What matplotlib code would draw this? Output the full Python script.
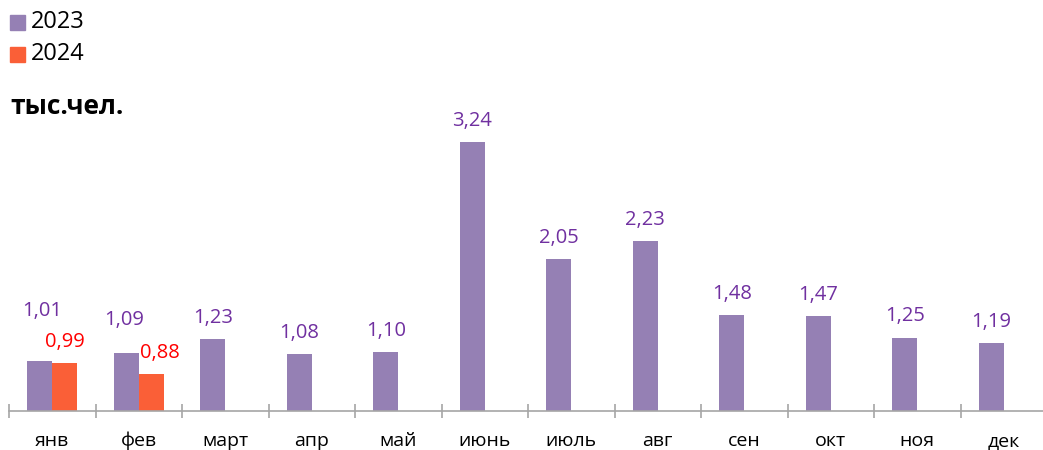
import numpy as np
import matplotlib
matplotlib.use('Agg')
import matplotlib.pyplot as plt
from matplotlib.patches import Rectangle

plt.rcParams['font.family'] = ['Open Sans', 'DejaVu Sans']

# данные
months = ['янв', 'фев', 'март', 'апр', 'май', 'июнь', 'июль', 'авг', 'сен', 'окт', 'ноя', 'дек']
vals_2023 = [1.01, 1.09, 1.23, 1.08, 1.10, 3.24, 2.05, 2.23, 1.48, 1.47, 1.25, 1.19]
vals_2024 = [0.99, 0.88]
series_names = ['2023', '2024']

c23 = '#9580B4'
c24 = '#FA5F37'
lab23 = '#7030A0'
lab24 = '#FF0000'

fig = plt.figure(figsize=(10.43, 4.5), dpi=100)
W, H = 1043, 450
left, right = 9, 1047
bottom, top = 411, 117
ax = fig.add_axes([left / W, (H - bottom) / H, (right - left) / W, (bottom - top) / H])

x = np.arange(len(months))
bw = 0.29
ax.bar(x - bw / 2, vals_2023, bw, color=c23)
x24 = np.arange(len(vals_2024))
ax.bar(x24 + bw / 2, vals_2024, bw, color=c24)

ax.set_xlim(-0.5, len(months) - 0.5)
ax.set_ylim(0.5, 3.5)

fmt = lambda v: f'{v:.2f}'.replace('.', ',')
# ручные смещения подписей (пиксели), чтобы не налезали
off23 = {0: (2, 50), 1: (-2, 33)}
off24 = {1: (9, 21)}
for i, v in enumerate(vals_2023):
    dx, dy = off23.get(i, (0, 21))
    ax.annotate(fmt(v), (x[i] - bw / 2, v), xytext=(dx, dy), textcoords='offset pixels',
                ha='center', va='center', color=lab23, fontsize=14.5)
for i, v in enumerate(vals_2024):
    dx, dy = off24.get(i, (0, 21))
    ax.annotate(fmt(v), (x24[i] + bw / 2, v), xytext=(dx, dy), textcoords='offset pixels',
                ha='center', va='center', color=lab24, fontsize=14.5)

for s in ['top', 'right', 'left']:
    ax.spines[s].set_visible(False)
ax.spines['bottom'].set_color('#A6A6A6')
ax.spines['bottom'].set_linewidth(1.2)
ax.set_yticks([])
ax.set_xticks(x)
ax.set_xticklabels(months, fontsize=14)
ax.tick_params(axis='x', which='major', length=0, pad=15)
ax.set_xticks(np.arange(-0.5, len(months)), minor=True)
ax.tick_params(axis='x', which='minor', direction='inout', length=9.5, width=1.2, color='#A6A6A6')

# легенда вручную
for k, (name, col) in enumerate(zip(series_names, [c23, c24])):
    yc = 22 + 32 * k
    fig.patches.append(Rectangle((10 / W, 1 - (yc + 7.5) / H), 15 / W, 15 / H,
                                 transform=fig.transFigure, color=col))
    fig.text(31 / W, 1 - yc / H, name, fontsize=17, va='center', ha='left')

fig.text(10 / W, 1 - 107 / H, 'тыс.чел.', fontsize=19, fontweight='bold', va='center', ha='left')

fig.savefig('out.png', dpi=100)
